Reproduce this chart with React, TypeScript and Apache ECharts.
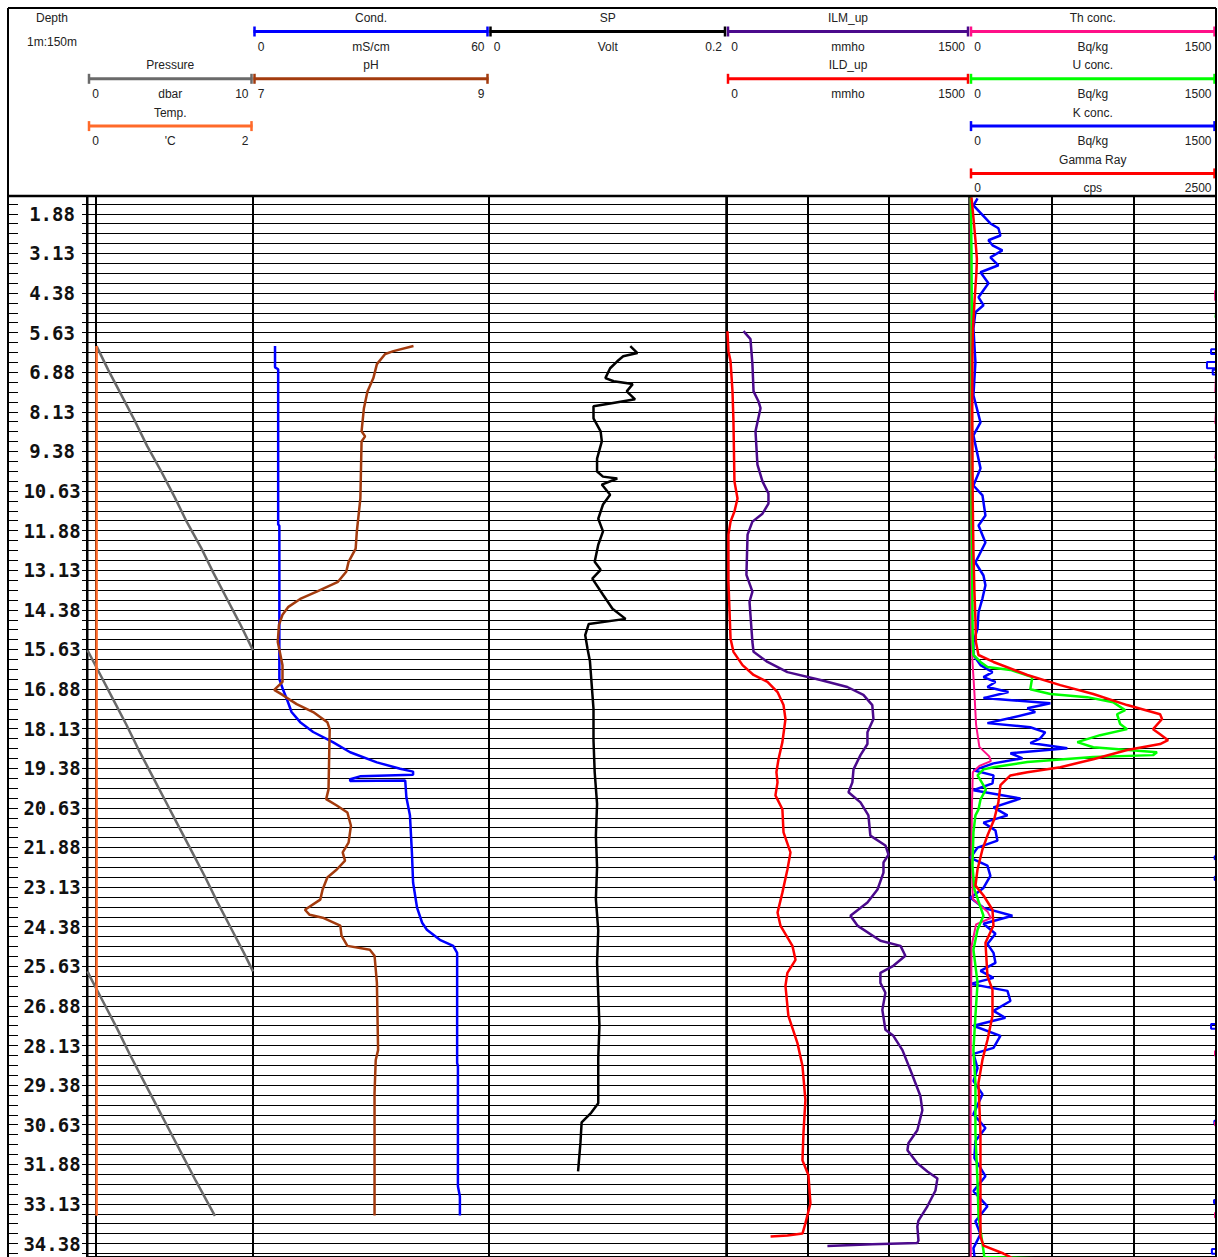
import React, { useEffect, useRef } from "react";
import * as echarts from "echarts";

// ---------------- depth axis ----------------
const DEPTH_MIN = 1.25;
const DEPTH_MAX = 34.8;
const DEPTH_STEP = 0.3125;
const DEPTH_LABEL_FIRST = 1.875;
const DEPTH_LABEL_STEP = 1.25;
const depthTickLabels = [
  "1.88", "3.13", "4.38", "5.63", "6.88", "8.13", "9.38", "10.63", "11.88",
  "13.13", "14.38", "15.63", "16.88", "18.13", "19.38", "20.63", "21.88",
  "23.13", "24.38", "25.63", "26.88", "28.13", "29.38", "30.63", "31.88",
  "33.13", "34.38",
];

// ---------------- track 1: pressure (dbar), temperature (°C) ----------------
const pressure: [number, number][] = [
  [6.05, 0.55], [6.8, 1.25], [7.6, 2.05], [8.4, 2.85], [9.2, 3.6], [10.0, 4.45],
  [10.8, 5.25], [11.6, 6.0], [12.4, 6.85], [13.2, 7.6], [14.0, 8.4], [14.8, 9.2],
  [15.6, 9.95], [16.4, 10.75], [17.2, 11.55], [18.0, 12.35], [18.8, 13.1],
  [19.6, 13.9], [20.4, 14.7], [21.2, 15.5], [22.0, 16.3], [22.8, 17.1],
  [23.6, 17.85], [24.4, 18.65], [25.2, 19.45], [26.0, 20.2], [26.8, 21.0],
  [27.6, 21.8], [28.4, 22.55], [29.2, 23.35], [30.0, 24.15], [30.8, 24.95],
  [31.6, 25.75], [32.4, 26.55], [33.5, 27.7],
];
const temperature: [number, number][] = [
  [6.05, 0.11], [9.0, 0.11], [12.0, 0.11], [15.0, 0.11], [18.0, 0.11],
  [21.0, 0.11], [24.0, 0.11], [27.0, 0.11], [30.0, 0.11], [33.5, 0.11],
];

// ---------------- track 2: conductivity (mS/cm), pH ----------------
const conductivity: [number, number][] = [
  [6.05, 5.6], [6.72, 5.6], [6.78, 6.4], [11.68, 6.4], [11.72, 6.7], [16.56, 6.7],
  [16.88, 7.6], [17.19, 8.6], [17.6, 9.8], [17.92, 12.0], [18.23, 15.3],
  [18.55, 20.3], [18.87, 24.7], [19.19, 31.5], [19.39, 37.4], [19.48, 40.7],
  [19.58, 40.7], [19.6, 34.0], [19.63, 27.2], [19.72, 24.7], [19.78, 24.7],
  [19.76, 38.7], [20.3, 39.0], [20.86, 39.9], [22.03, 40.4], [22.98, 40.7],
  [23.77, 41.7], [24.25, 43.0], [24.47, 44.2], [24.79, 47.5], [24.98, 50.9],
  [25.2, 51.9], [28.68, 51.9], [28.77, 52.1], [32.57, 52.1], [32.89, 52.6],
  [33.49, 52.6],
];
const ph: [number, number][] = [
  [6.05, 8.36], [6.21, 8.19], [6.3, 8.12], [6.62, 8.05], [7.06, 8.02], [7.48, 7.97],
  [8.01, 7.94], [8.74, 7.92], [8.9, 7.95], [9.06, 7.92], [10.86, 7.91], [11.9, 7.88],
  [12.44, 7.87], [12.86, 7.81], [13.17, 7.79], [13.49, 7.72], [13.8, 7.54],
  [14.03, 7.4], [14.28, 7.3], [14.53, 7.25], [14.85, 7.22], [15.39, 7.21],
  [16.12, 7.25], [16.65, 7.25], [16.9, 7.18], [17.06, 7.25], [17.35, 7.37],
  [17.6, 7.51], [17.92, 7.63], [18.14, 7.65], [20.04, 7.64], [20.35, 7.62],
  [20.55, 7.71], [20.77, 7.8], [21.19, 7.83], [21.72, 7.81], [22.03, 7.76],
  [22.29, 7.78], [22.57, 7.71], [22.82, 7.63], [23.2, 7.59], [23.52, 7.57],
  [23.84, 7.44], [24.0, 7.48], [24.09, 7.59], [24.34, 7.74], [24.66, 7.75],
  [24.98, 7.8], [25.1, 7.99], [25.29, 8.03], [26.15, 8.05], [28.27, 8.06],
  [28.58, 8.04], [29.63, 8.03], [33.49, 8.03],
];

// ---------------- track 3: SP (Volt) ----------------
const sp: [number, number][] = [
  [6.05, 0.119], [6.27, 0.125], [6.37, 0.113], [6.53, 0.108], [6.75, 0.102],
  [7.06, 0.098], [7.16, 0.105], [7.25, 0.121], [7.48, 0.116], [7.73, 0.123],
  [7.86, 0.102], [7.95, 0.088], [8.33, 0.088], [8.74, 0.094], [9.06, 0.095],
  [9.6, 0.091], [10.01, 0.091], [10.17, 0.096], [10.23, 0.108], [10.42, 0.095],
  [10.74, 0.102], [11.05, 0.096], [11.5, 0.092], [11.9, 0.096], [12.32, 0.092],
  [12.86, 0.089], [13.11, 0.094], [13.39, 0.087], [13.9, 0.096], [14.34, 0.104],
  [14.66, 0.115], [14.82, 0.084], [15.17, 0.081], [15.61, 0.083], [16.0, 0.085],
  [16.5, 0.086], [17.5, 0.088], [18.5, 0.088], [19.5, 0.089], [20.5, 0.091],
  [21.5, 0.09], [22.5, 0.091], [23.5, 0.09], [24.5, 0.092], [25.5, 0.091],
  [26.5, 0.092], [27.5, 0.093], [28.5, 0.092], [29.5, 0.092], [29.95, 0.092],
  [30.25, 0.086], [30.55, 0.078], [31.2, 0.077], [32.1, 0.075],
];

// ---------------- track 4: ILM_up, ILD_up (mmho) ----------------
const ilmUp: [number, number][] = [
  [5.58, 105], [5.83, 148], [6.62, 160], [7.48, 167], [7.79, 197], [8.01, 210],
  [8.74, 179], [9.79, 191], [10.32, 222], [10.7, 259], [11.02, 259], [11.34, 222],
  [11.59, 160], [12.0, 130], [13.27, 123], [13.8, 160], [14.12, 142], [15.39, 160],
  [15.7, 167], [16.02, 253], [16.34, 376], [16.59, 580], [16.81, 746], [17.06, 845],
  [17.38, 900], [17.82, 907], [18.24, 870], [18.61, 870], [18.96, 827], [19.41, 784],
  [19.82, 777], [20.13, 753], [20.45, 827], [20.86, 876], [21.5, 888], [21.81, 981],
  [22.1, 1000], [22.35, 969], [22.67, 969], [23.2, 932], [23.61, 870], [24.03, 765],
  [24.34, 808], [24.82, 950], [24.98, 1074], [25.29, 1104], [25.61, 1030],
  [25.83, 950], [26.15, 950], [26.46, 981], [27.0, 962], [27.63, 981], [27.82, 1030],
  [28.27, 1086], [28.9, 1135], [29.72, 1197], [30.17, 1209], [30.8, 1178],
  [31.21, 1123], [31.43, 1117], [31.84, 1178], [32.1, 1240], [32.32, 1302],
  [32.7, 1290], [33.2, 1240], [33.65, 1185], [33.84, 1178], [34.28, 1185],
  [34.36, 1178], [34.4, 900], [34.45, 623],
];
const ildUp: [number, number][] = [
  [5.58, 6], [6.21, 12], [6.53, 25], [7.48, 37], [8.43, 43], [10.32, 49], [10.86, 68],
  [11.27, 49], [11.59, 25], [12.0, 12], [13.49, 12], [15.29, 25], [15.7, 43],
  [16.12, 99], [16.43, 167], [16.65, 253], [16.97, 315], [17.38, 352], [17.82, 364],
  [18.55, 345], [19.09, 321], [19.5, 308], [19.82, 315], [20.23, 302], [20.67, 345],
  [21.4, 352], [22.03, 395], [22.57, 376], [23.3, 345], [23.93, 315], [24.34, 333],
  [24.98, 407], [25.42, 426], [25.83, 376], [26.24, 364], [27.19, 382], [28.05, 438],
  [28.77, 469], [29.85, 487], [30.89, 475], [31.75, 469], [32.22, 506], [33.11, 518],
  [33.74, 487], [34.06, 469], [34.12, 376], [34.15, 272],
];

// ---------------- track 5: Th, U, K (Bq/kg), Gamma Ray (cps) ----------------
const thConc: [number, number][] = [
  [1.36, 6], [5.0, 8], [10.0, 8], [15.0, 10], [16.0, 18], [17.0, 30], [18.0, 40],
  [18.7, 60], [19.0, 120], [19.15, 130], [19.3, 60], [19.5, 20], [20.5, 15],
  [22.0, 12], [23.5, 20], [23.9, 110], [24.1, 130], [24.3, 40], [25.0, 12],
  [28.0, 8], [31.0, 6], [34.85, 8],
];
const uConc: [number, number][] = [
  [1.36, 8], [3.0, 12], [5.0, 14], [7.0, 12], [9.0, 15], [11.0, 12], [13.0, 16],
  [14.5, 18], [15.4, 20], [15.8, 24], [16.02, 67], [16.18, 109], [16.27, 249],
  [16.5, 382], [16.88, 370], [17.03, 492], [17.13, 716], [17.29, 874], [17.54, 947],
  [17.67, 898], [17.98, 917], [18.14, 959], [18.33, 795], [18.55, 656], [18.71, 753],
  [18.87, 1141], [18.96, 1117], [19.02, 753], [19.18, 352], [19.34, 146],
  [19.41, 85], [19.6, 49], [20.04, 100], [20.36, 67], [20.67, 55], [20.86, 36],
  [21.4, 24], [22.45, 18], [23.2, 30], [24.03, 85], [24.47, 49], [25.1, 24],
  [26.15, 49], [27.19, 36], [28.27, 24], [29.31, 36], [30.89, 36], [32.47, 49],
  [33.52, 55], [34.6, 85], [34.8, 90], [34.85, 480],
];
const kConc: [number, number][] = [
  [1.39, 49], [1.61, 24], [2.18, 127], [2.33, 176], [2.56, 188], [2.71, 115],
  [2.87, 140], [3.03, 200], [3.25, 127], [3.5, 176], [3.72, 67], [4.07, 115],
  [4.29, 85], [4.51, 55], [4.76, 85], [4.98, 36], [5.49, 24], [6.56, 36], [7.6, 24],
  [8.46, 67], [8.87, 24], [9.91, 67], [10.45, 24], [10.76, 79], [11.4, 97],
  [11.71, 55], [12.25, 97], [12.88, 36], [13.29, 85], [13.6, 97], [14.01, 79],
  [14.45, 55], [14.96, 49], [15.4, 24], [15.55, 24], [15.8, 24], [16.12, 67],
  [16.34, 140], [16.5, 85], [16.65, 158], [16.81, 109], [16.97, 237], [17.16, 85],
  [17.32, 492], [17.48, 352], [17.6, 400], [17.79, 249], [17.95, 109], [18.08, 370],
  [18.24, 461], [18.43, 431], [18.58, 370], [18.74, 595], [18.9, 249], [19.06, 322],
  [19.22, 146], [19.44, 24], [19.6, 146], [19.85, 140], [20.07, 24], [20.33, 310],
  [20.61, 146], [20.86, 231], [21.09, 85], [21.34, 158], [21.66, 170], [21.88, 49],
  [22.2, 6], [22.45, 109], [22.77, 127], [23.15, 85], [23.46, 6], [23.78, 85],
  [24.03, 261], [24.28, 85], [24.6, 158], [24.92, 109], [25.2, 146], [25.52, 158],
  [25.77, 67], [25.99, 146], [26.18, 6], [26.4, 231], [26.72, 249], [27.03, 146],
  [27.25, 218], [27.5, 24], [27.82, 188], [28.2, 146], [28.39, 24], [28.84, 49],
  [29.25, 24], [29.66, 79], [30.29, 24], [30.73, 97], [31.14, 36], [31.68, 30],
  [32.25, 97], [32.72, 24], [33.2, 109], [33.67, 36], [34.08, 67], [34.52, 24],
  [34.78, 30],
];
const gammaRay: [number, number][] = [
  [1.36, 20], [2.0, 40], [2.73, 61], [3.3, 75], [3.68, 71], [4.63, 51], [5.5, 35],
  [6.21, 30], [8.0, 28], [9.38, 30], [11.0, 33], [12.54, 40], [13.8, 50],
  [14.75, 61], [15.39, 65], [15.8, 91], [16.02, 243], [16.43, 587], [16.75, 921],
  [17.03, 1255], [17.38, 1599], [17.67, 1933], [17.82, 1953], [18.14, 1862],
  [18.3, 1933], [18.49, 2014], [18.61, 1933], [18.8, 1599], [19.09, 1255],
  [19.34, 921], [19.5, 587], [19.6, 415], [19.91, 314], [20.45, 293], [20.99, 250],
  [21.5, 182], [21.94, 131], [22.57, 81], [23.08, 61], [23.39, 142], [23.84, 233],
  [24.34, 243], [24.88, 162], [25.93, 182], [26.37, 233], [27.19, 233],
  [27.95, 182], [28.58, 131], [29.31, 91], [30.89, 111], [34.15, 111], [34.44, 142],
  [34.69, 344], [34.85, 445],
];
// small negative readings that wrap round to the right edge of the track: [fromDepth, toDepth, value]
const kNegative: [number, number, number][] = [
  [6.15, 6.3, -30], [6.55, 6.75, -55], [6.8, 6.95, -20], [22.15, 22.25, -8],
  [22.8, 22.9, -8], [27.45, 27.6, -30], [30.5, 30.6, -10], [33.0, 33.1, -12],
  [34.55, 34.7, -25],
];
const thNegative: [number, number, number][] = [
  [4.3, 4.6, -5], [7.0, 7.5, -4], [8.1, 8.5, -4], [9.4, 9.6, -4],
  [28.3, 28.45, -6], [30.55, 30.65, -6], [33.4, 33.55, -6],
];
const uNegative: [number, number, number][] = [
  [5.0, 5.15, -4], [9.9, 10.0, -4],
];

// ---------------- layout / style ----------------
const TRACK_EDGES = [8, 87.5, 253, 489, 726.5, 969.5, 1216];
const GRID_TOP = 194;
const GRID_HEIGHT = 1063;
const HEADER_BOTTOM = 196;
const FONT = "'Liberation Sans', Arial, sans-serif";
const COLORS = {
  pressure: "#6a6a6a",
  temp: "#ff6a2a",
  cond: "#0000ff",
  ph: "#a33b0e",
  sp: "#000000",
  ilm: "#4b0a8c",
  ild: "#ff0000",
  th: "#ff1088",
  u: "#00ff00",
  k: "#0000ff",
  gr: "#ff0000",
};

type Scale = { track: number; row: number; title: string; unit: string; lo: string; hi: string; color: string };
const headerScales: Scale[] = [
  { track: 1, row: 1, title: "Pressure", unit: "dbar", lo: "0", hi: "10", color: COLORS.pressure },
  { track: 1, row: 2, title: "Temp.", unit: "'C", lo: "0", hi: "2", color: COLORS.temp },
  { track: 2, row: 0, title: "Cond.", unit: "mS/cm", lo: "0", hi: "60", color: COLORS.cond },
  { track: 2, row: 1, title: "pH", unit: "", lo: "7", hi: "9", color: COLORS.ph },
  { track: 3, row: 0, title: "SP", unit: "Volt", lo: "0", hi: "0.2", color: COLORS.sp },
  { track: 4, row: 0, title: "ILM_up", unit: "mmho", lo: "0", hi: "1500", color: COLORS.ilm },
  { track: 4, row: 1, title: "ILD_up", unit: "mmho", lo: "0", hi: "1500", color: COLORS.ild },
  { track: 5, row: 0, title: "Th conc.", unit: "Bq/kg", lo: "0", hi: "1500", color: COLORS.th },
  { track: 5, row: 1, title: "U conc.", unit: "Bq/kg", lo: "0", hi: "1500", color: COLORS.u },
  { track: 5, row: 2, title: "K conc.", unit: "Bq/kg", lo: "0", hi: "1500", color: COLORS.k },
  { track: 5, row: 3, title: "Gamma Ray", unit: "cps", lo: "0", hi: "2500", color: COLORS.gr },
];

const toXY = (rows: [number, number][]) => rows.map(([d, v]) => [v, d]);

// split a curve into segments that wrap round when they pass the scale's right end
function wrapSegments(rows: [number, number][], span: number): number[][][] {
  const segs: number[][][] = [];
  let cur: number[][] = [];
  let prevW = 0, prevD = 0, prevV = 0;
  rows.forEach(([d, v], i) => {
    const w = Math.floor(v / span);
    if (i > 0 && w !== prevW) {
      const k = Math.max(w, prevW) * span;
      const t = (k - prevV) / (v - prevV);
      const dB = prevD + t * (d - prevD);
      cur.push([w > prevW ? span : 0, dB]);
      segs.push(cur);
      cur = [[w > prevW ? 0 : span, dB]];
    }
    cur.push([v - w * span, d]);
    prevW = w; prevD = d; prevV = v;
  });
  segs.push(cur);
  return segs;
}

function curve(name: string, xAxisIndex: number, yAxisIndex: number, data: any[], color: string, width = 2.5, extra: any = {}) {
  return {
    name, type: "line", xAxisIndex, yAxisIndex, data,
    symbol: "none", showSymbol: false, silent: true, animation: false, clip: true,
    lineStyle: { color, width }, itemStyle: { color }, z: 3, ...extra,
  };
}

function buildOption() {
  const grids = TRACK_EDGES.slice(0, -1).map((left, i) => ({
    left,
    top: GRID_TOP,
    width: (i === 0 ? 87 : TRACK_EDGES[i + 1]) - left,
    height: GRID_HEIGHT,
    show: i > 0,
    borderColor: "#000",
    borderWidth: 2,
    containLabel: false,
    outerBoundsMode: "none",
  }));

  const yBase = { type: "value", inverse: true, min: DEPTH_MIN, max: DEPTH_MAX, interval: DEPTH_STEP };
  const yAxes: any[] = [
    {
      ...yBase, gridIndex: 0, position: "left",
      axisLine: { show: true, lineStyle: { color: "#000", width: 2 } },
      axisTick: { show: true, inside: true, length: 10, lineStyle: { color: "#000", width: 1 } },
      axisLabel: {
        show: true, inside: true, margin: 44, align: "center",
        fontFamily: "'DejaVu Sans Mono', monospace", fontWeight: "bold", fontSize: 19, color: "#111",
        formatter: (v: number) => {
          const k = (v - DEPTH_LABEL_FIRST) / DEPTH_LABEL_STEP;
          const r = Math.round(k);
          return Math.abs(k - r) < 1e-6 && r >= 0 && r < depthTickLabels.length ? depthTickLabels[r] : "";
        },
      },
      splitLine: { show: false },
    },
    {
      ...yBase, gridIndex: 0, position: "right",
      axisLine: { show: true, lineStyle: { color: "#000", width: 2 } },
      axisTick: { show: true, inside: true, length: 5, lineStyle: { color: "#000", width: 1 } },
      axisLabel: { show: false },
      splitLine: { show: false },
    },
  ];
  for (let g = 1; g <= 5; g++) {
    yAxes.push({
      ...yBase, gridIndex: g,
      axisLine: { show: false }, axisTick: { show: false }, axisLabel: { show: false },
      splitLine: { show: true, lineStyle: { color: "#000", width: 1 } },
    });
  }

  const xHidden = (gridIndex: number, min: number, max: number) => ({ type: "value", gridIndex, min, max, show: false });
  const xSplit = (gridIndex: number, min: number, max: number, interval: number) => ({
    type: "value", gridIndex, min, max, interval,
    axisLine: { show: false }, axisTick: { show: false }, axisLabel: { show: false },
    splitLine: { show: true, lineStyle: { color: "#000", width: 2 } },
  });
  const xAxes = [
    xHidden(0, 0, 1), // 0 depth
    xHidden(1, 0, 10), // 1 pressure
    xHidden(1, 0, 2), // 2 temp
    xHidden(2, 0, 60), // 3 cond
    xHidden(2, 7, 9), // 4 pH
    xHidden(3, 0, 0.2), // 5 SP
    xSplit(4, 0, 1500, 500), // 6 ILM
    xHidden(4, 0, 1500), // 7 ILD
    xSplit(5, 0, 1500, 500), // 8 Th
    xHidden(5, 0, 1500), // 9 U
    xHidden(5, 0, 1500), // 10 K
    xHidden(5, 0, 2500), // 11 GR
  ];

  const series: any[] = [];
  wrapSegments(pressure, 10).forEach((seg, i) =>
    series.push(curve("Pressure" + (i ? " (wrap " + i + ")" : ""), 1, 2, seg, COLORS.pressure, 2.5)));
  series.push(curve("Temp.", 2, 2, toXY(temperature), COLORS.temp, 2.5));
  series.push(curve("Cond.", 3, 3, toXY(conductivity), COLORS.cond, 2.5));
  series.push(curve("pH", 4, 3, toXY(ph), COLORS.ph, 2.5));
  series.push(curve("SP", 5, 4, toXY(sp), COLORS.sp, 2.5));
  series.push(curve("ILM_up", 6, 5, toXY(ilmUp), COLORS.ilm, 2.5));
  series.push(curve("ILD_up", 7, 5, toXY(ildUp), COLORS.ild, 2.5));
  series.push(curve("K conc.", 10, 6, toXY(kConc), COLORS.k, 2.5));
  series.push(curve("Th conc.", 8, 6, toXY(thConc), COLORS.th, 2));
  series.push(curve("U conc.", 9, 6, toXY(uConc), COLORS.u, 2.5));
  series.push(curve("Gamma Ray", 11, 6, toXY(gammaRay), COLORS.gr, 2.5));
  const blips = (rows: [number, number, number][], xi: number, color: string, name: string) =>
    rows.forEach(([d0, d1, v], i) =>
      series.push(curve(name + " wrap " + i, xi, 6,
        [[1500, d0], [1500 + v, d0], [1500 + v, d1], [1500, d1]], color, 2)));
  blips(kNegative, 10, COLORS.k, "K");
  blips(thNegative, 8, COLORS.th, "Th");
  blips(uNegative, 9, COLORS.u, "U");

  // ---------------- header (graphic) ----------------
  const g: any[] = [];
  const text = (x: number, y: number, t: string, align = "center") =>
    g.push({
      type: "text", x, y, z: 100, silent: true,
      style: {
        text: t, fill: "#222", fontSize: 12, fontFamily: FONT,
        textAlign: align, textVerticalAlign: "middle", align, verticalAlign: "middle",
      },
    });
  const line = (x1: number, y1: number, x2: number, y2: number, stroke: string, lineWidth: number, z = 100) =>
    g.push({ type: "line", z, silent: true, shape: { x1, y1, x2, y2 }, style: { stroke, lineWidth } });

  g.push({ type: "rect", z: 90, silent: true, shape: { x: 8, y: 8, width: 1208, height: HEADER_BOTTOM - 8 }, style: { fill: "#fff" } });
  const depthCenter = (TRACK_EDGES[0] + 96) / 2;
  text(depthCenter, 18, "Depth");
  text(depthCenter, 42, "1m:150m");
  headerScales.forEach((s) => {
    const left = TRACK_EDGES[s.track] + 0.5;
    const right = TRACK_EDGES[s.track + 1] - 0.5;
    const mid = (left + right) / 2;
    const titleY = 18 + s.row * 47.3;
    const barY = 31.5 + s.row * 47.3;
    const labY = 46.5 + s.row * 47.3;
    text(mid, titleY, s.title);
    line(left, barY, right, barY, s.color, 3);
    line(left + 1, barY - 5, left + 1, barY + 5, s.color, 2.5);
    line(right - 1, barY - 5, right - 1, barY + 5, s.color, 2.5);
    text(left + 7.5, labY, s.lo);
    if (s.unit) text(mid, labY, s.unit);
    text(right - 4, labY, s.hi, "right");
  });
  // frame
  line(8, 8, 1216, 8, "#000", 2);
  line(8, 8, 8, 1257, "#000", 2);
  line(1216, 8, 1216, 1257, "#000", 2);
  line(8, HEADER_BOTTOM, 1216, HEADER_BOTTOM, "#000", 2.5);
  // second boundary line of the depth track
  line(96, HEADER_BOTTOM, 96, 1257, "#000", 2, 1);

  return {
    animation: false,
    backgroundColor: "#fff",
    textStyle: { fontFamily: FONT },
    grid: grids,
    xAxis: xAxes,
    yAxis: yAxes,
    series,
    graphic: { elements: g },
  };
}

export default function App() {
  const ref = useRef<HTMLDivElement>(null);
  useEffect(() => {
    document.body.style.margin = "0";
    const chart = echarts.init(ref.current!, null, { renderer: "svg" });
    chart.setOption(buildOption() as any);
    return () => chart.dispose();
  }, []);
  return <div ref={ref} style={{ width: 1218, height: 1257 }} />;
}
